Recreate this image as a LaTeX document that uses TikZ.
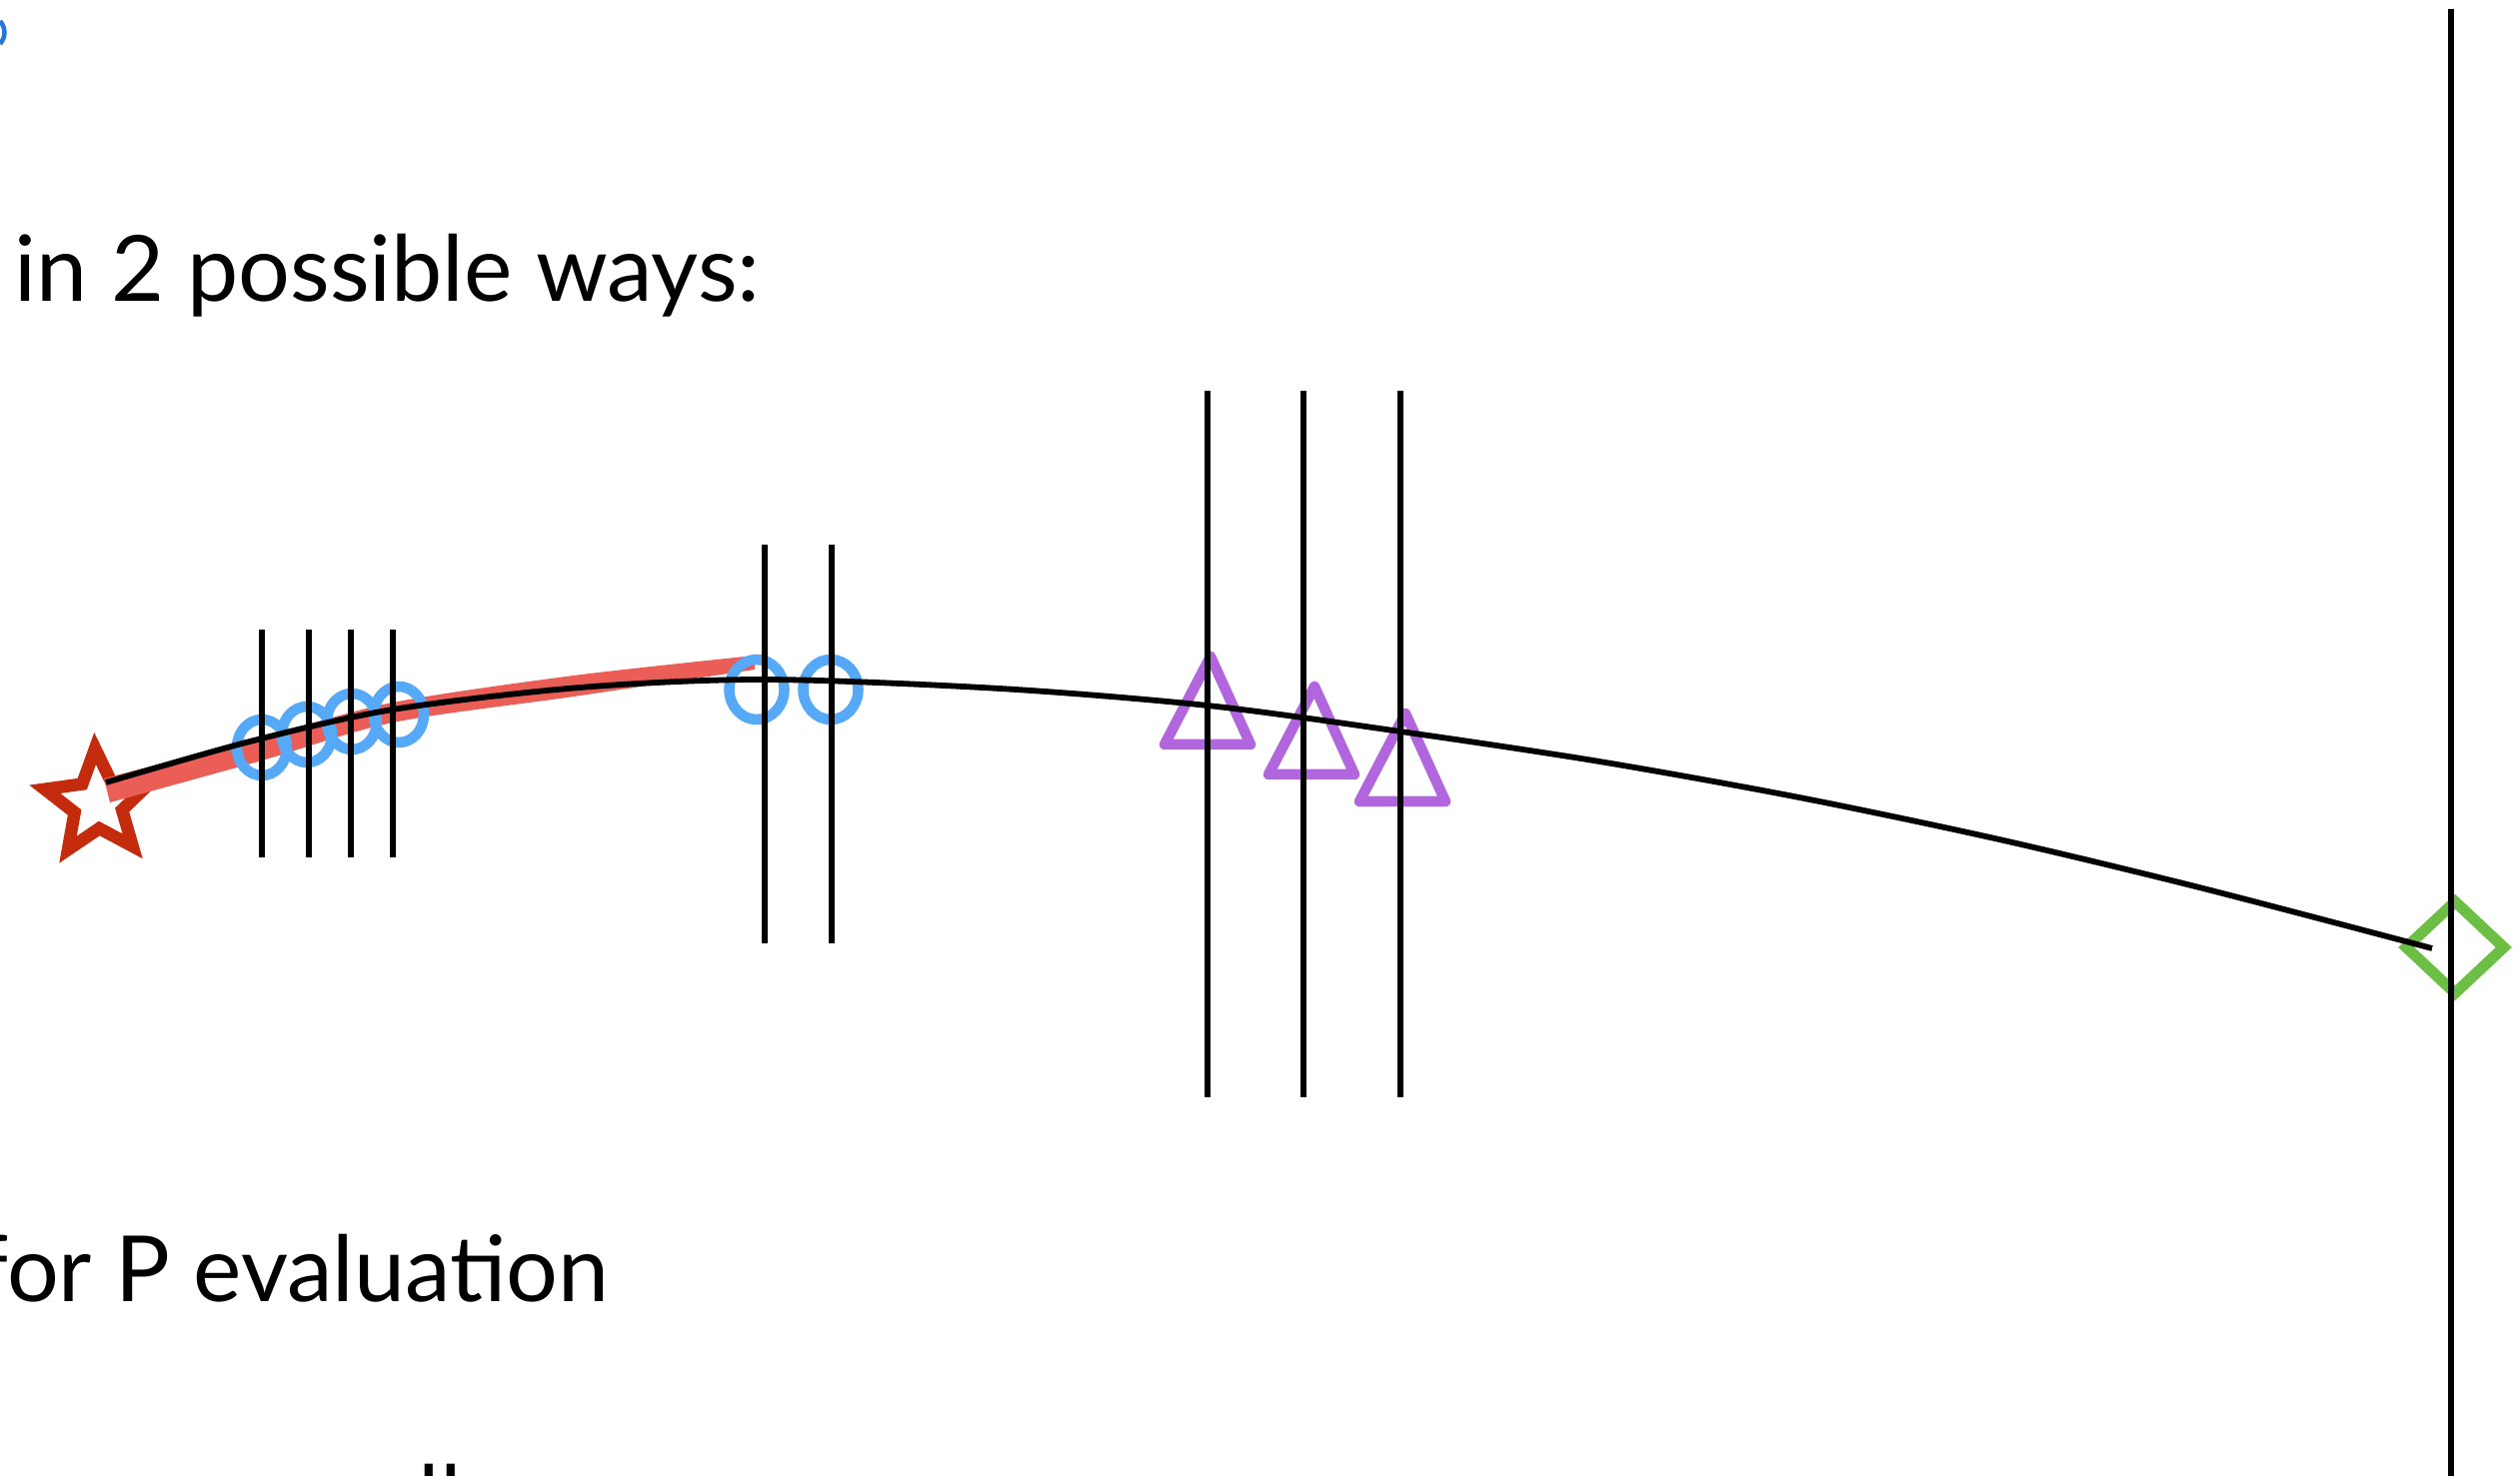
\documentclass[tikz,border=0pt]{standalone}
\usepackage{fontspec}
\setmainfont{Lato}
\usepackage{xcolor}
\usetikzlibrary{shapes.geometric}

\definecolor{vtxred}{HTML}{C42A0C}
\definecolor{bandred}{HTML}{EA5E57}
\definecolor{hitblue}{HTML}{55A9F7}
\definecolor{hitpurple}{HTML}{B266DD}
\definecolor{endgreen}{HTML}{6CBF44}
\definecolor{inkblue}{HTML}{2378DC}

\begin{document}
\begin{tikzpicture}[x=0.01cm, y=-0.01cm,
        slidetext/.style={inner sep=0pt, font=\fontsize{26}{30}\selectfont},
        plane/.style={line width=0.56mm},
        track/.style={line width=0.58mm},
        vtx/.style={star, star points=5, star point ratio=2.2, draw=vtxred, fill=white,
            line width=1.25mm, minimum size=1.1cm, inner sep=0pt},
        hitsmall/.style={ellipse, draw=hitblue, line width=1.05mm, minimum width=0.5cm,
            minimum height=0.56cm, inner sep=0pt},
        hitbig/.style={ellipse, draw=hitblue, line width=1.05mm, minimum width=0.55cm,
            minimum height=0.6cm, inner sep=0pt},
        hittri/.pic={\draw[hitpurple, line width=1.05mm, line join=round]
            (3,-46) -- (43,42) -- (-43,42) -- cycle;},
        endpt/.style={diamond, draw=endgreen, line width=1.1mm, minimum width=1.02cm,
            minimum height=0.96cm, inner sep=0pt}]
    \useasboundingbox (0,0) rectangle (2521,1477);

    % slide text, cut by the frame
    \draw[inkblue, line width=0.45mm] (0,21) .. controls (6,28) and (6,37) .. (0,44);
    \node[slidetext, anchor=base west] (ways) at (14,302) {in 2 possible ways:};
    \node[slidetext, anchor=base east] (peval) at (610,1302) {for P evaluation};
    \node[slidetext, anchor=base west] (cut) at (418,1532) {ll};

    % vertex and fitted segment
    \node[vtx, rotate=3] (v0) at (98,804) {};
    \fill[bandred]
        plot[smooth] coordinates {(104,779) (262,738) (393,703) (574,676) (755,656)}
        -- plot[smooth] coordinates {(755,670) (574,697) (393,723) (262,761) (110,803)}
        -- cycle;

    % hits
    \node[hitsmall] (h1) at (262,748) {};
    \node[hitsmall] (h2) at (307,735) {};
    \node[hitsmall] (h3) at (352,722) {};
    \node[hitsmall] (h4) at (399,715) {};
    \node[hitbig] (h5) at (757,690) {};
    \node[hitbig] (h6) at (831,690) {};
    \pic (t1) at (1208,703) {hittri};
    \pic (t2) at (1312,733) {hittri};
    \pic (t3) at (1403,760) {hittri};
    \node[endpt] (e0) at (2456,948) {};

    % detector planes
    \foreach \x in {262,309,351,393}
        \draw[plane] (\x,630) -- (\x,858);
    \foreach \x in {765,832}
        \draw[plane] (\x,545) -- (\x,944);
    \foreach \x in {1208,1304,1401}
        \draw[plane] (\x,391) -- (\x,1098);
    \draw[plane] (2452,9) -- (2452,1477);

    % track
    \coordinate (trkA) at (106,783);
    \coordinate (trkB) at (2433,949);
    \draw[track] plot[smooth] coordinates
        {(trkA) (250,742) (393,710) (580,688) (765,680) (1000,689) (1208,706)
         (1401,732) (1600,762) (1800,798) (2000,840) (2200,888) (trkB)};
\end{tikzpicture}
\end{document}
